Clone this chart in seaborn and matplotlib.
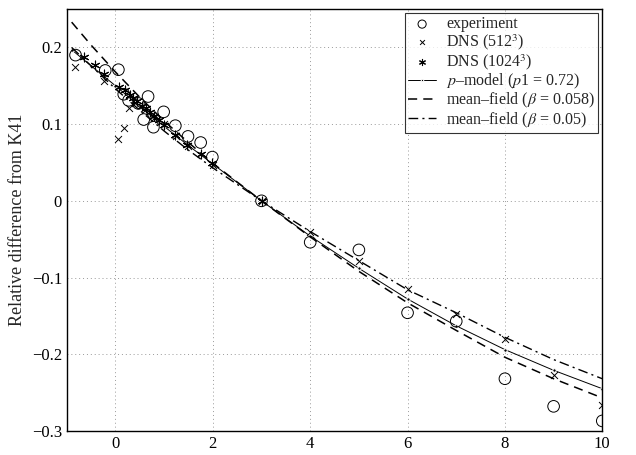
import numpy as np
import pandas as pd
import matplotlib
matplotlib.use("Agg")
import matplotlib.pyplot as plt
import seaborn as sns

# experiment
exp_x = [-0.82, -0.21, 0.06, 0.17, 0.27, 0.47, 0.58, 0.67, 0.78, 0.99, 1.23, 1.49, 1.75, 1.99,
         3.0, 4.0, 5.0, 6.0, 7.0, 8.0, 9.0, 10.0]
exp_y = [0.190, 0.170, 0.171, 0.139, 0.131, 0.127, 0.106, 0.136, 0.096, 0.116, 0.098, 0.084, 0.076, 0.057,
         0.0, -0.054, -0.064, -0.146, -0.157, -0.232, -0.268, -0.287]

# DNS 512^3
d512_x = [-0.83, -0.23, 0.06, 0.18, 0.27, 0.4, 0.6, 0.8, 1.0, 1.25, 1.5, 2.0,
          3.0, 4.0, 5.0, 6.0, 7.0, 8.0, 9.0, 10.0]
d512_y = [0.174, 0.156, 0.080, 0.095, 0.121, 0.128, 0.118, 0.108, 0.100, 0.085, 0.072, 0.047,
          0.0, -0.041, -0.078, -0.115, -0.148, -0.180, -0.227, -0.266]

# DNS 1024^3
d1024_x = [-0.64, -0.43, -0.23, 0.08, 0.19, 0.3, 0.37, 0.45, 0.55, 0.62, 0.7, 0.8, 0.9, 1.0,
           1.23, 1.47, 1.75, 1.99, 3.0]
d1024_y = [0.188, 0.177, 0.166, 0.149, 0.144, 0.138, 0.134, 0.130, 0.124, 0.121, 0.116, 0.110, 0.105, 0.099,
           0.086, 0.073, 0.061, 0.049, 0.0]

# p-model (p1 = 0.72)
pm_x = [-0.9, -0.5, 0.0, 0.5, 1.0, 1.5, 2.0, 3.0, 4.0, 5.0, 6.0, 7.0, 8.0, 9.0, 10.0]
pm_y = [0.197, 0.176, 0.150, 0.123, 0.097, 0.072, 0.048, 0.0, -0.046, -0.088, -0.128, -0.163, -0.194, -0.221, -0.245]

# mean-field beta = 0.058
mf1_x = [-0.9, -0.5, 0.0, 0.5, 1.0, 1.5, 2.0, 3.0, 4.0, 5.0, 6.0, 7.0, 8.0, 9.0, 10.0]
mf1_y = [0.233, 0.203, 0.168, 0.135, 0.104, 0.076, 0.049, 0.0, -0.047, -0.092, -0.133, -0.169, -0.204, -0.232, -0.257]

# mean-field beta = 0.05
mf2_x = [-0.9, -0.5, 0.0, 0.5, 1.0, 1.5, 2.0, 3.0, 4.0, 5.0, 6.0, 7.0, 8.0, 9.0, 10.0]
mf2_y = [0.200, 0.176, 0.146, 0.118, 0.091, 0.066, 0.043, 0.0, -0.040, -0.078, -0.116, -0.146, -0.178, -0.207, -0.232]

sns.set_style("white")
plt.rcParams['font.family'] = ['Liberation Serif', 'DejaVu Serif']
plt.rcParams['mathtext.fontset'] = 'stix'
plt.rcParams['font.size'] = 11

fig = plt.figure(figsize=(6.36, 4.55), dpi=100)
ax = fig.add_axes([0.105, 0.053, 0.842, 0.927])

sns.scatterplot(x=exp_x, y=exp_y, ax=ax, marker='o', s=70, facecolors='none',
                edgecolor='black', linewidth=0.7, label='experiment', zorder=3)
sns.scatterplot(x=d512_x, y=d512_y, ax=ax, marker='x', s=25, color='black',
                linewidth=0.7, label='DNS (512$^3$)', zorder=3)
sns.scatterplot(x=d1024_x, y=d1024_y, ax=ax, marker=(6, 2, 0), s=40, color='black',
                linewidth=0.8, label='DNS (1024$^3$)', zorder=3)
sns.lineplot(x=pm_x, y=pm_y, ax=ax, color='black', lw=0.7, marker='o', markersize=2.5,
             sort=False, label='$p$–model ($p$1 = 0.72)')
sns.lineplot(x=mf1_x, y=mf1_y, ax=ax, color='black', lw=1.1, dashes=False, linestyle=(0, (6, 4)),
             sort=False, label='mean–field ($\\beta$ = 0.058)')
sns.lineplot(x=mf2_x, y=mf2_y, ax=ax, color='black', lw=1.0, dashes=False, linestyle=(0, (7, 3, 1.5, 3)),
             sort=False, label='mean–field ($\\beta$ = 0.05)')

ax.set_xlim(-1, 10)
ax.set_ylim(-0.3, 0.25)
ax.set_xticks([0, 2, 4, 6, 8, 10])
ax.set_yticks([-0.3, -0.2, -0.1, 0, 0.1, 0.2])
ax.set_yticklabels(['−0.3', '−0.2', '−0.1', '0', '0.1', '0.2'])
ax.grid(True, linestyle=(0, (1, 3)), color='#999999', linewidth=0.7)
ax.tick_params(direction='in', length=4, labelsize=12, colors='black')
for s in ax.spines.values():
    s.set_color('black')
    s.set_linewidth(1.0)
ax.set_ylabel('Relative difference from K41', fontsize=13)

leg = ax.legend(loc='upper right', fontsize=11.5, frameon=True, fancybox=False,
                edgecolor='black', borderaxespad=0.25, handlelength=1.8, labelspacing=0.0,
                borderpad=0.2, handletextpad=0.6, markerscale=0.7)
leg.get_frame().set_linewidth(0.8)

fig.savefig('out.png', dpi=100)
